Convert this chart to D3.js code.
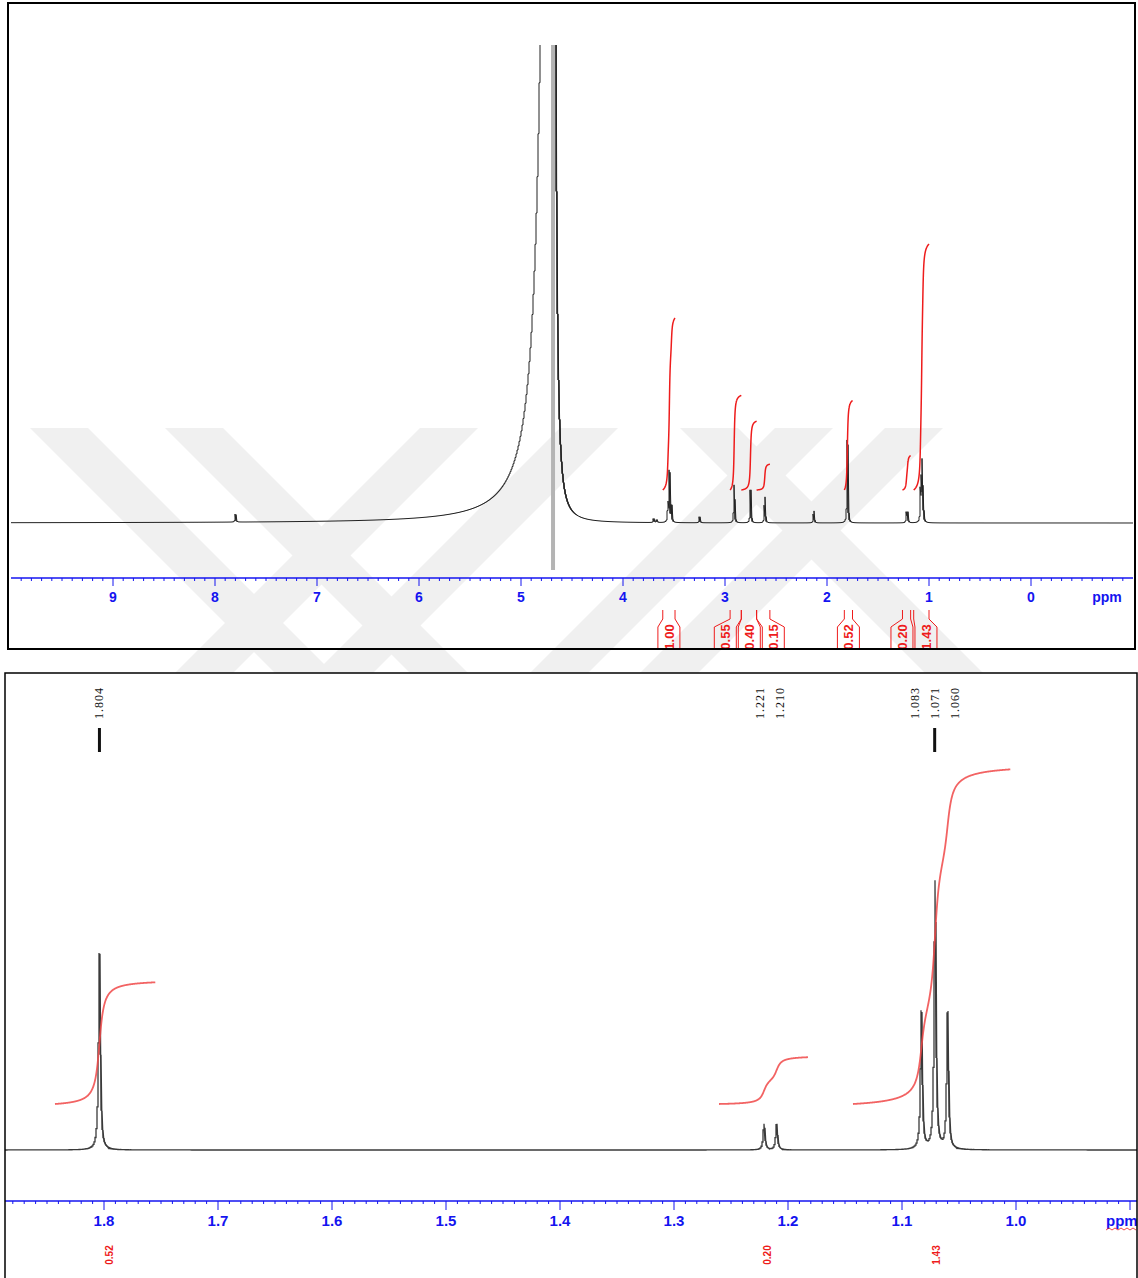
<!DOCTYPE html>
<html>
<head>
<meta charset="utf-8">
<script src="https://cdn.jsdelivr.net/npm/d3@7"></script>
<style>
  body { margin: 0; background: #fff; }
  svg { display: block; }
</style>
</head>
<body>
<svg id="chart" width="1138" height="1278"></svg>
<script>
'use strict';

// ---- data: full spectrum (top panel) ----
var topPeaks = [   // [ppm, height]
  [7.80, 8], [3.70, 4], [3.67, 3], [3.56, 18], [3.545, 51], [3.525, 16], [3.25, 6],
  [2.91, 38], [2.75, 33], [2.61, 26], [2.13, 12], [1.80, 83],
  [1.221, 10], [1.210, 10], [1.083, 30], [1.071, 58], [1.060, 30]
];
var solventPpm = 4.686, solventHeight = 3000, solventDip = -47;
var solventWidthLeft = 0.055, solventWidthRight = 0.012;
var topIntegrals = [   // [from ppm, to ppm, value]
  [3.61, 3.49, 1.00], [2.95, 2.84, 0.55], [2.84, 2.69, 0.40], [2.69, 2.56, 0.15],
  [1.83, 1.75, 0.52], [1.26, 1.18, 0.20], [1.15, 1.00, 1.43]
];
var topTicks = [9, 8, 7, 6, 5, 4, 3, 2, 1, 0];

// ---- data: expansion 1.9 - 0.9 ppm (bottom panel) ----
var bottomPeaks = [
  [1.804, 197], [1.221, 26], [1.210, 26], [1.083, 138], [1.071, 268], [1.060, 137]
];
var markedPeaks = [1.804, 1.071];
var bottomIntegrals = [
  [1.843, 1.755, 0.52], [1.2605, 1.1825, 0.20], [1.143, 1.005, 1.43]
];
var bottomTicks = [1.8, 1.7, 1.6, 1.5, 1.4, 1.3, 1.2, 1.1, 1.0];

// ---- layout ----
var svg = d3.select('#chart');
var blue = '#1414f0', red = '#ee1c1c';
var topBox = { x0: 8, y0: 3, x1: 1135, y1: 649 };
var botBox = { x0: 5, y0: 673, x1: 1137, y1: 1290 };

var xTop = d3.scaleLinear().domain([10, -1]).range([11, 1133]);
var yTop = d3.scaleLinear().domain([0, 100]).range([523, 423]);
var xBot = d3.scaleLinear().domain([1.8, 1.0]).range([104, 1016]);
var yBot = d3.scaleLinear().domain([0, 100]).range([1150, 1050]);

svg.append('rect').attr('width', 1138).attr('height', 1278).attr('fill', '#fff');

// faint watermark behind the top panel
var defs = svg.append('defs');
defs.append('clipPath').attr('id', 'wmclip')
  .append('rect').attr('x', 0).attr('y', 428).attr('width', 1138).attr('height', 245);
var wm = svg.append('g').attr('clip-path', 'url(#wmclip)').attr('fill', '#f0f0f0');
[[30, 1], [165, 1], [420, -1], [560, -1], [680, 1], [775, -1], [885, -1]].forEach(function (b) {
  var x = b[0], s = b[1], w = 58, h = 245;
  wm.append('path').attr('d', 'M' + x + ',428 L' + (x + w) + ',428 L' + (x + w + s * h) + ',673 L' + (x + s * h) + ',673 Z');
});

function lor(p, c, g) { var d = p - c; return g * g / (d * d + g * g); }

function topSignal(p) {
  var v = d3.sum(topPeaks, function (pk) { return pk[1] * lor(p, pk[0], 0.004); });
  var g = p > solventPpm ? solventWidthLeft : solventWidthRight;
  return v + solventHeight * lor(p, solventPpm, g);
}
function botSignal(p) {
  return d3.sum(bottomPeaks, function (pk) { return pk[1] * lor(p, pk[0], 0.0009); });
}

// min/max per pixel column, like a spectrum plotter does
function columnPath(xs, ys, signal, peaks, x0, x1) {
  var d = '';
  for (var px = x0; px <= x1; px++) {
    var a = xs.invert(px - 0.5), b = xs.invert(px + 0.5);
    var samples = d3.range(9).map(function (i) { return a + (b - a) * i / 8; });
    peaks.forEach(function (pk) { if (pk[0] <= a && pk[0] >= b) samples.push(pk[0]); });
    var vals = samples.map(signal);
    var lo = ys(d3.min(vals)), hi = ys(d3.max(vals));
    d += (px === x0 ? 'M' : 'L') + px + ',' + lo + 'L' + px + ',' + hi;
  }
  return d;
}

function integralPath(xs, range, value, peaks, g, y0, k) {
  var inside = peaks.filter(function (pk) { return pk[0] <= range[0] && pk[0] >= range[1]; });
  var total = d3.sum(inside, function (pk) { return pk[1]; });
  function F(p) {
    return d3.sum(inside, function (pk) {
      return pk[1] / total * (0.5 + Math.atan((pk[0] - p) / g) / Math.PI);
    });
  }
  var f0 = F(range[0]), f1 = F(range[1]);
  var pts = d3.range(0, 401).map(function (i) {
    var p = range[0] + (range[1] - range[0]) * i / 400;
    return [xs(p), y0 - k * value * (F(p) - f0) / (f1 - f0)];
  });
  return d3.line().curve(d3.curveBasis)(pts);
}

function spread(centers, gap) {
  var groups = centers.map(function (c) { return { sum: c, n: 1, pos: c }; });
  var changed = true;
  while (changed) {
    changed = false;
    for (var i = 0; i < groups.length - 1; i++) {
      var a = groups[i], b = groups[i + 1];
      if (b.pos - (a.pos + (a.n - 1) * gap) < gap) {
        var n = a.n + b.n, sum = a.sum + b.sum;
        groups.splice(i, 2, { sum: sum, n: n, pos: sum / n - (n - 1) * gap / 2 });
        changed = true;
        break;
      }
    }
  }
  var out = [];
  groups.forEach(function (g) { for (var k = 0; k < g.n; k++) out.push(g.pos + k * gap); });
  return out;
}

// ================= top panel =================
defs.append('clipPath').attr('id', 'topclip')
  .append('rect').attr('x', topBox.x0 + 1).attr('y', 45)
  .attr('width', topBox.x1 - topBox.x0 - 2).attr('height', 530);
defs.append('clipPath').attr('id', 'topbox')
  .append('rect').attr('x', topBox.x0).attr('y', topBox.y0)
  .attr('width', topBox.x1 - topBox.x0).attr('height', topBox.y1 - topBox.y0);

var gTop = svg.append('g').attr('clip-path', 'url(#topclip)');
gTop.append('line')
  .attr('x1', xTop(solventPpm)).attr('x2', xTop(solventPpm))
  .attr('y1', 45).attr('y2', yTop(solventDip))
  .attr('stroke', '#b4b4b4').attr('stroke-width', 4);
gTop.append('path')
  .attr('d', columnPath(xTop, yTop, topSignal, topPeaks, 11, 1133))
  .attr('fill', 'none').attr('stroke', '#222').attr('stroke-width', 1);

topIntegrals.forEach(function (it) {
  gTop.append('path')
    .attr('d', integralPath(xTop, it, it[2], topPeaks, 0.006, 490, 172))
    .attr('fill', 'none').attr('stroke', red).attr('stroke-width', 1.5);
});

// axis
var axTop = svg.append('g');
axTop.append('line').attr('x1', 11).attr('x2', 1133).attr('y1', 578).attr('y2', 578)
  .attr('stroke', blue).attr('stroke-width', 1.5);
d3.range(-9, 100).forEach(function (i) {
  var p = i / 10;
  axTop.append('line').attr('x1', xTop(p)).attr('x2', xTop(p))
    .attr('y1', 578).attr('y2', i % 10 === 0 ? 586 : 581)
    .attr('stroke', blue).attr('stroke-width', 1);
});
axTop.selectAll('text.tk').data(topTicks).enter().append('text')
  .attr('x', function (d) { return xTop(d); }).attr('y', 602)
  .attr('text-anchor', 'middle')
  .attr('font-family', 'Liberation Sans, Arial, sans-serif').attr('font-weight', 'bold')
  .attr('font-size', 14).attr('fill', blue).text(function (d) { return d; });
axTop.append('text').attr('x', 1107).attr('y', 602).attr('text-anchor', 'middle')
  .attr('font-family', 'Liberation Sans, Arial, sans-serif').attr('font-weight', 'bold')
  .attr('font-size', 14).attr('fill', blue).text('ppm');

// integral value boxes under the axis
var labX = spread(topIntegrals.map(function (it) { return (xTop(it[0]) + xTop(it[1])) / 2; }), 24);
var gLab = svg.append('g').attr('clip-path', 'url(#topbox)');
topIntegrals.forEach(function (it, i) {
  var xa = xTop(it[0]), xb = xTop(it[1]), c = labX[i];
  gLab.append('path')
    .attr('d', 'M' + xa + ',610V619L' + (c - 11) + ',627V652M' + xb + ',610V619L' + (c + 11) + ',627V652')
    .attr('fill', 'none').attr('stroke', red).attr('stroke-width', 1);
  gLab.append('text')
    .attr('transform', 'translate(' + (c + 5) + ',637) rotate(-90)')
    .attr('text-anchor', 'middle')
    .attr('font-family', 'Liberation Sans Narrow, Liberation Sans, Arial, sans-serif')
    .attr('font-weight', 'bold').attr('font-size', 13).attr('fill', red)
    .text(d3.format('.2f')(it[2]));
});

svg.append('rect').attr('x', topBox.x0).attr('y', topBox.y0)
  .attr('width', topBox.x1 - topBox.x0).attr('height', topBox.y1 - topBox.y0)
  .attr('fill', 'none').attr('stroke', '#000').attr('stroke-width', 2);

// ================= bottom panel =================
defs.append('clipPath').attr('id', 'botclip')
  .append('rect').attr('x', botBox.x0).attr('y', botBox.y0)
  .attr('width', botBox.x1 - botBox.x0).attr('height', botBox.y1 - botBox.y0);
svg.append('rect').attr('x', botBox.x0).attr('y', botBox.y0)
  .attr('width', botBox.x1 - botBox.x0).attr('height', botBox.y1 - botBox.y0).attr('fill', '#fff');

var gBot = svg.append('g').attr('clip-path', 'url(#botclip)');
gBot.append('path')
  .attr('d', columnPath(xBot, yBot, botSignal, bottomPeaks, botBox.x0, botBox.x1))
  .attr('fill', 'none').attr('stroke', '#3a3a3a').attr('stroke-width', 1.3);

bottomIntegrals.forEach(function (it) {
  gBot.append('path')
    .attr('d', integralPath(xBot, it, it[2], bottomPeaks, 0.003, 1104, 234))
    .attr('fill', 'none').attr('stroke', '#f04848').attr('stroke-opacity', 0.85).attr('stroke-width', 1.8);
  gBot.append('text')
    .attr('transform', 'translate(' + ((xBot(it[0]) + xBot(it[1])) / 2 + 8) + ',1255) rotate(-90)')
    .attr('text-anchor', 'middle')
    .attr('font-family', 'Liberation Sans Narrow, Liberation Sans, Arial, sans-serif')
    .attr('font-weight', 'bold').attr('font-size', 10).attr('fill', red)
    .text(d3.format('.2f')(it[2]));
});

// peak labels
var pkX = spread(bottomPeaks.map(function (pk) { return xBot(pk[0]); }), 20);
bottomPeaks.forEach(function (pk, i) {
  gBot.append('text')
    .attr('transform', 'translate(' + (pkX[i] + 4) + ',703) rotate(-90)')
    .attr('text-anchor', 'middle')
    .attr('font-family', 'Liberation Serif, Times New Roman, serif')
    .attr('font-size', 12).attr('letter-spacing', 1).attr('fill', '#111')
    .text(d3.format('.3f')(pk[0]));
  if (markedPeaks.indexOf(pk[0]) > -1) {
    gBot.append('line').attr('x1', pkX[i]).attr('x2', pkX[i]).attr('y1', 728).attr('y2', 752)
      .attr('stroke', '#111').attr('stroke-width', 3);
  }
});

// axis
var axBot = gBot.append('g');
axBot.append('line').attr('x1', botBox.x0).attr('x2', botBox.x1).attr('y1', 1201).attr('y2', 1201)
  .attr('stroke', blue).attr('stroke-width', 1.5);
d3.range(89, 189).forEach(function (i) {
  var p = i / 100, x = xBot(p);
  if (x < botBox.x0 || x > botBox.x1) return;
  axBot.append('line').attr('x1', x).attr('x2', x)
    .attr('y1', 1201).attr('y2', i % 10 === 0 ? 1210 : 1204)
    .attr('stroke', blue).attr('stroke-width', 1);
});
axBot.selectAll('text.tk').data(bottomTicks).enter().append('text')
  .attr('x', function (d) { return xBot(d); }).attr('y', 1226)
  .attr('text-anchor', 'middle')
  .attr('font-family', 'Liberation Sans, Arial, sans-serif').attr('font-weight', 'bold')
  .attr('font-size', 15).attr('fill', blue).text(d3.format('.1f'));
axBot.append('text').attr('x', 1106).attr('y', 1226)
  .attr('font-family', 'Liberation Sans, Arial, sans-serif').attr('font-weight', 'bold')
  .attr('font-size', 15).attr('fill', blue).text('ppm');
axBot.append('path')
  .attr('d', d3.range(0, 11).map(function (i) { return (i ? 'L' : 'M') + (1106 + i * 3) + ',' + (i % 2 ? 1228 : 1230); }).join(''))
  .attr('fill', 'none').attr('stroke', red).attr('stroke-width', 0.8);

svg.append('rect').attr('x', botBox.x0).attr('y', botBox.y0)
  .attr('width', botBox.x1 - botBox.x0).attr('height', botBox.y1 - botBox.y0)
  .attr('fill', 'none').attr('stroke', '#000').attr('stroke-width', 1.5);
</script>
</body>
</html>
